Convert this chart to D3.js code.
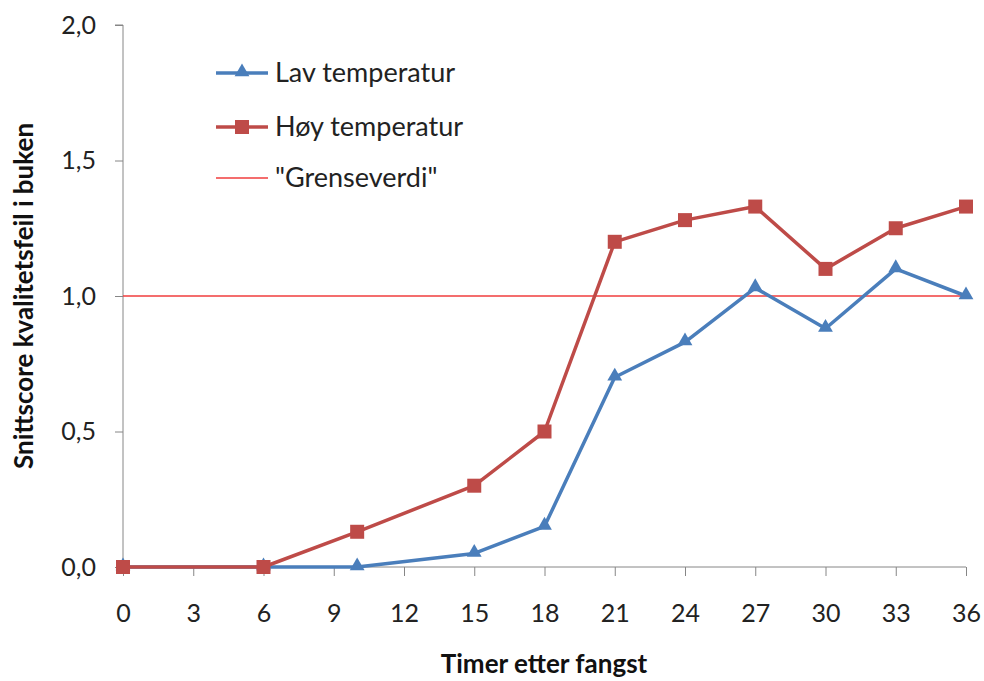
<!DOCTYPE html>
<html><head><meta charset="utf-8">
<script src="https://cdn.jsdelivr.net/npm/d3@7"></script>
<style>body{margin:0;background:#fff}text{font-family:Lato,"Open Sans",sans-serif}</style>
</head><body><svg id="c" width="984" height="681"></svg>
<script>
const hours = [0, 6, 10, 15, 18, 21, 24, 27, 30, 33, 36];
const lavTemp = [0, 0, 0, 0.05, 0.15, 0.70, 0.83, 1.03, 0.88, 1.10, 1.00];
const hoyTemp = [0, 0, 0.13, 0.30, 0.50, 1.20, 1.28, 1.33, 1.10, 1.25, 1.33];
const grenseverdi = 1.0;
const xTicks = [0,3,6,9,12,15,18,21,24,27,30,33,36];
const yTicks = [0,0.5,1.0,1.5,2.0];
const seriesNames = ["Lav temperatur", "Høy temperatur", "\"Grenseverdi\""];

const svg = d3.select("#c");
const x = d3.scaleLinear().domain([0,36]).range([123,966]);
const y = d3.scaleLinear().domain([0,2]).range([567,25]);
const axisCol = "#868686";
const blue = "#4a7ebb", red = "#be4b48";
const fs = 25;

// y axis
const ya = svg.append("g").attr("transform","translate(123,0)")
  .call(d3.axisLeft(y).tickValues(yTicks).tickSize(8).tickPadding(19)
  .tickFormat(d=>d3.format(".1f")(d).replace(".",",")));
ya.select(".domain").attr("stroke",axisCol).attr("d","M-8,25H0V567");
ya.selectAll("line").attr("stroke",axisCol);
ya.selectAll("text").attr("font-size",fs).attr("fill","#222").attr("font-family","Lato");

// x axis
const xa = svg.append("g").attr("transform","translate(0,567)")
  .call(d3.axisBottom(x).tickValues(xTicks).tickSize(9).tickPadding(28));
xa.select(".domain").attr("stroke",axisCol).attr("d","M123,0H966");
xa.selectAll("line").attr("stroke",axisCol);
xa.selectAll("text").attr("font-size",fs).attr("fill","#222").attr("font-family","Lato");

// threshold
svg.append("line").attr("x1",x(0)).attr("x2",x(36)).attr("y1",y(grenseverdi)).attr("y2",y(grenseverdi))
  .attr("stroke","#f03c3c").attr("stroke-width",1.3);

const line = d3.line().x((d,i)=>x(hours[i])).y(d=>y(d));
svg.append("path").datum(lavTemp).attr("d",line).attr("fill","none").attr("stroke",blue).attr("stroke-width",3.5).attr("stroke-linejoin","round");
svg.append("path").datum(hoyTemp).attr("d",line).attr("fill","none").attr("stroke",red).attr("stroke-width",3.5).attr("stroke-linejoin","round");

const tri = d3.symbol().type(d3.symbolTriangle).size(95);
svg.append("g").selectAll("path").data(lavTemp).join("path")
  .attr("d",tri).attr("transform",(d,i)=>`translate(${x(hours[i])},${y(d)-1})`).attr("fill",blue);
svg.append("g").selectAll("rect").data(hoyTemp).join("rect")
  .attr("x",(d,i)=>x(hours[i])-7).attr("y",d=>y(d)-7).attr("width",14).attr("height",14).attr("fill",red);

// legend
const lg = svg.append("g");
const ly = [73,127,178];
lg.append("line").attr("x1",216).attr("x2",268).attr("y1",ly[0]).attr("y2",ly[0]).attr("stroke",blue).attr("stroke-width",3.5);
lg.append("path").attr("d",tri).attr("transform",`translate(242,${ly[0]-1})`).attr("fill",blue);
lg.append("line").attr("x1",216).attr("x2",268).attr("y1",ly[1]).attr("y2",ly[1]).attr("stroke",red).attr("stroke-width",3.5);
lg.append("rect").attr("x",235).attr("y",ly[1]-7).attr("width",14).attr("height",14).attr("fill",red);
lg.append("line").attr("x1",216).attr("x2",268).attr("y1",ly[2]).attr("y2",ly[2]).attr("stroke","#f03c3c").attr("stroke-width",1.3);
lg.selectAll("text").data(seriesNames).join("text").attr("x",275).attr("y",(d,i)=>ly[i]).attr("dy","0.35em")
  .attr("font-size",27).attr("fill","#222").text(d=>d);

// titles
svg.append("text").attr("transform","translate(33,296) rotate(-90)").attr("text-anchor","middle")
  .attr("font-size",26).attr("font-weight","bold").attr("fill","#111").text("Snittscore kvalitetsfeil i buken");
svg.append("text").attr("x",544).attr("y",673).attr("text-anchor","middle")
  .attr("font-size",26).attr("font-weight","bold").attr("fill","#111").text("Timer etter fangst");
</script></body></html>
